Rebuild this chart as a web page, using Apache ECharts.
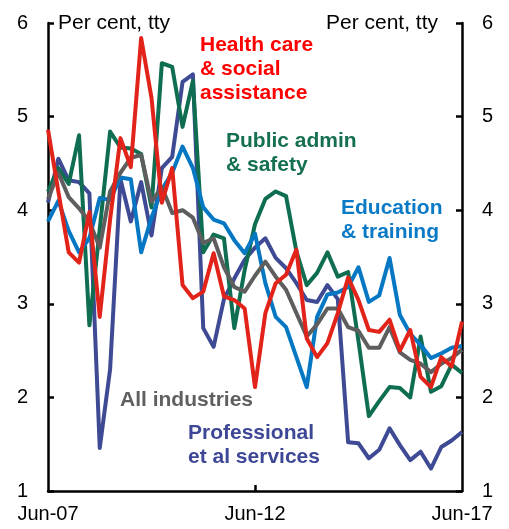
<!DOCTYPE html>
<html>
<head>
<meta charset="utf-8">
<script src="https://cdn.jsdelivr.net/npm/echarts@6/dist/echarts.min.js"></script>
<style>
html, body { margin: 0; padding: 0; background: #fff; }
#chart { width: 509px; height: 529px; }
</style>
</head>
<body>
<div id="chart"></div>
<script>
// quarterly, Jun-07 to Jun-17
const quarters = [
    "Jun-07", "Sep-07", "Dec-07", "Mar-08", "Jun-08", "Sep-08", "Dec-08", "Mar-09",
    "Jun-09", "Sep-09", "Dec-09", "Mar-10", "Jun-10", "Sep-10", "Dec-10", "Mar-11",
    "Jun-11", "Sep-11", "Dec-11", "Mar-12", "Jun-12", "Sep-12", "Dec-12", "Mar-13",
    "Jun-13", "Sep-13", "Dec-13", "Mar-14", "Jun-14", "Sep-14", "Dec-14", "Mar-15",
    "Jun-15", "Sep-15", "Dec-15", "Mar-16", "Jun-16", "Sep-16", "Dec-16", "Mar-17",
    "Jun-17"
];
const xLabels = ["Jun-07", "Jun-12", "Jun-17"];
const yTicks = [1, 2, 3, 4, 5, 6];

const healthCare = [4.86, 4.2, 3.55, 3.44, 3.98, 2.86, 3.9, 4.77, 4.46, 5.84,
    5.2, 4.08, 4.45, 3.2, 3.06, 3.13, 3.54, 3.08, 3.04, 2.95,
    2.11, 2.9, 3.22, 3.31, 3.58, 2.63, 2.43, 2.58, 2.9, 3.28,
    3.04, 2.72, 2.7, 2.83, 2.5, 2.72, 2.22, 2.11, 2.43, 2.33, 2.81];
const publicAdmin = [4.2, 4.45, 4.28, 4.8, 2.77, 3.8, 4.84, 4.67, 4.66, 4.6,
    4.03, 5.57, 5.53, 4.89, 5.38, 3.55, 3.74, 3.7, 2.74, 3.36,
    3.85, 4.12, 4.2, 4.15, 3.56, 3.2, 3.33, 3.55, 3.29, 3.34,
    2.6, 1.8, 1.96, 2.11, 2.1, 2.0, 2.65, 2.06, 2.12, 2.35, 2.26];
const education = [3.88, 4.1, 3.78, 3.55, 3.7, 4.13, 4.11, 4.35, 4.33, 3.55,
    3.92, 4.22, 4.4, 4.68, 4.45, 4.03, 3.9, 3.86, 3.68, 3.54,
    3.75, 3.22, 2.86, 2.75, 2.43, 2.11, 2.86, 3.1, 3.12, 3.18,
    3.39, 3.02, 3.09, 3.49, 2.88, 2.68, 2.56, 2.42, 2.47, 2.53, 2.55];
const allIndustries = [4.12, 4.4, 4.14, 4.02, 3.88, 3.6, 4.2, 4.4, 4.56, 4.59,
    4.09, 4.25, 3.97, 4.0, 3.92, 3.65, 3.7, 3.39, 3.18, 3.13,
    3.3, 3.45, 3.29, 3.15, 2.9, 2.65, 2.78, 2.95, 2.95, 2.75,
    2.71, 2.53, 2.53, 2.75, 2.48, 2.4, 2.36, 2.27, 2.36, 2.42, 2.51];
const professional = [4.08, 4.55, 4.32, 4.3, 4.18, 1.46, 2.3, 4.33, 3.88, 4.3,
    3.73, 4.45, 4.57, 5.37, 5.45, 2.74, 2.54, 3.05, 3.27, 3.47,
    3.6, 3.7, 3.49, 3.38, 3.22, 3.04, 3.02, 3.2, 3.05, 1.52,
    1.51, 1.35, 1.44, 1.67, 1.49, 1.33, 1.42, 1.24, 1.47, 1.54, 1.63];

const FONT = "Liberation Sans, Arial, sans-serif";

const makeY = (position) => ({
    type: "value",
    position: position,
    min: yTicks[0],
    max: yTicks[yTicks.length - 1],
    interval: 1,
    axisLine: { show: true, lineStyle: { color: "#000", width: 2.5 } },
    axisTick: { show: true, inside: true, length: 6, lineStyle: { color: "#000", width: 2.5 } },
    axisLabel: { color: "#000", fontSize: 20, fontFamily: FONT, margin: 20 },
    splitLine: { show: false }
});

const line = (name, data, color) => ({
    name: name,
    type: "line",
    data: data,
    yAxisIndex: 0,
    symbol: "none",
    lineStyle: { color: color, width: 4, join: "round" },
    itemStyle: { color: color },
    animation: false
});

const label = (text, x, y, color) => ({
    type: "text",
    left: x,
    top: y,
    style: {
        text: text,
        fill: color,
        font: "bold 21px " + FONT,
        lineHeight: 24
    }
});

const chart = echarts.init(document.getElementById("chart"));
chart.setOption({
    animation: false,
    grid: { left: 48, right: 47, top: 23, bottom: 38 },
    xAxis: {
        type: "category",
        data: quarters,
        boundaryGap: false,
        axisLine: { lineStyle: { color: "#000", width: 2.5 } },
        axisTick: {
            inside: true,
            length: 6,
            interval: (i, v) => v === xLabels[1],
            lineStyle: { color: "#000", width: 2.5 }
        },
        axisLabel: {
            interval: (i, v) => xLabels.includes(v),
            color: "#000",
            fontSize: 20,
            fontFamily: FONT,
            margin: 13
        },
        splitLine: { show: false }
    },
    yAxis: [makeY("left"), makeY("right")],
    series: [
        line("Professional et al services", professional, "#3e4a94"),
        line("Public admin & safety", publicAdmin, "#0f6e51"),
        line("Education & training", education, "#0577c3"),
        line("All industries", allIndustries, "#5e5e5e"),
        line("Health care & social assistance", healthCare, "#e2231a")
    ],
    graphic: [
        { type: "text", left: 58, top: 13, style: { text: "Per cent, tty", fill: "#000", font: "21px " + FONT } },
        { type: "text", right: 71, top: 13, style: { text: "Per cent, tty", fill: "#000", font: "21px " + FONT } },
        label("Health care\n& social\nassistance", 200, 33, "#ff0000"),
        label("Public admin\n& safety", 226, 129, "#15704f"),
        label("Education\n& training", 341, 196, "#0b7ac6"),
        label("All industries", 120, 388, "#5f5f5f"),
        label("Professional\net al services", 188, 421, "#3d4796")
    ]
});
</script>
</body>
</html>
